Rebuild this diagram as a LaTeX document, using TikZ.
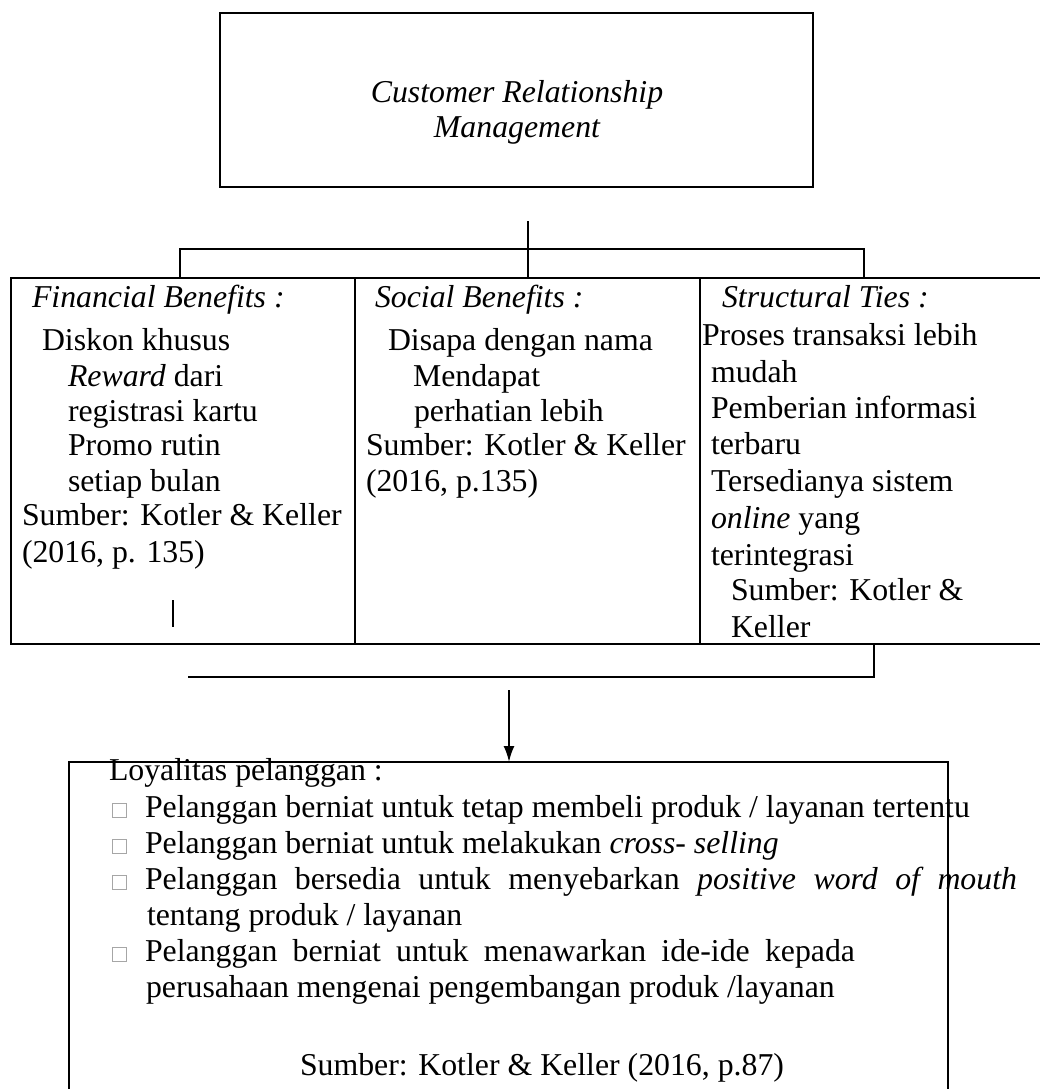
\documentclass[tikz,border=0pt]{standalone}
\usepackage{fontspec}
\setmainfont{Liberation Serif}
\usetikzlibrary{arrows.meta}
\begin{document}
\begin{tikzpicture}[x=1pt,y=-1pt,
  every node/.style={inner sep=0pt, outer sep=0pt},
  frame/.style={draw, line width=2pt, anchor=north west},
  colbox/.style={frame, line width=2.3pt, minimum height=366pt},
  txt/.style={anchor=base west, font=\fontsize{31.8}{35.5}\selectfont},
  ctxt/.style={anchor=base, font=\fontsize{31.8}{35.5}\selectfont},
  link/.style={line width=2pt},
  bul/.style={draw=gray!70, line width=1pt, anchor=south west, minimum width=14pt, minimum height=14pt}
]
\useasboundingbox (0,0) rectangle (1040,1089);
\clip (0,0) rectangle (1040,1089);

% top box
\node[frame, minimum width=593pt, minimum height=174pt] (crm) at (220,13) {};
\node[ctxt] (crm1) at (517,103) {\itshape Customer Relationship};
\node[ctxt] (crm2) at (517,138) {\itshape Management};

% three columns
\node[colbox, minimum width=344pt] (fin) at (11,278) {};
\node[colbox, minimum width=345pt] (soc) at (355,278) {};
\node[colbox, minimum width=360pt] (str) at (700,278) {};

% column 1
\node[txt] (f0) at (32,307) {\itshape Financial Benefits :};
\node[txt] (f1) at (42,350) {Diskon khusus};
\node[txt] (f2) at (68,386) {\textit{Reward} dari};
\node[txt] (f3) at (68,421) {registrasi kartu};
\node[txt] (f4) at (68,455) {Promo rutin};
\node[txt] (f5) at (68,491) {setiap bulan};
\node[txt] (f6) at (22,525) {Sumber: Kotler \& Keller};
\node[txt] (f7) at (22,562) {(2016, p. 135)};

% column 2
\node[txt] (s0) at (375,307) {\itshape Social Benefits :};
\node[txt] (s1) at (388,350) {Disapa dengan nama};
\node[txt] (s2) at (413,386) {Mendapat};
\node[txt] (s3) at (414,421) {perhatian lebih};
\node[txt] (s4) at (366,455) {Sumber: Kotler \& Keller};
\node[txt] (s5) at (366,491) {(2016, p.135)};

% column 3
\node[txt] (t0) at (722,307) {\itshape Structural Ties :};
\node[txt] (t1) at (702,345) {Proses transaksi lebih};
\node[txt] (t2) at (711,382) {mudah};
\node[txt] (t3) at (711,418) {Pemberian informasi};
\node[txt] (t4) at (711,454) {terbaru};
\node[txt] (t5) at (711,491) {Tersedianya sistem};
\node[txt] (t6) at (711,528) {\textit{online} yang};
\node[txt] (t7) at (711,565) {terintegrasi};
\node[txt] (t8) at (731,600) {Sumber: Kotler \&};
\node[txt] (t9) at (731,637) {Keller};

% bottom box
\node[frame, minimum width=879pt, minimum height=340pt] (loy) at (69,762) {};
\node[txt] (l0) at (109,780) {Loyalitas pelanggan :};
\node[bul] (b1) at (112,817) {};
\node[bul] (b2) at (112,853) {};
\node[bul] (b3) at (112,889) {};
\node[bul] (b4) at (112,961) {};
\node[txt] (l1) at (145,817) {Pelanggan berniat untuk tetap membeli produk / layanan tertentu};
\node[txt] (l2) at (145,853) {Pelanggan berniat untuk melakukan \textit{cross- selling}};
\node[txt] (l3) at (145,889) {\makebox[872pt][s]{Pelanggan bersedia untuk menyebarkan \textit{positive word of mouth}}};
\node[txt] (l4) at (147,925) {tentang produk / layanan};
\node[txt] (l5) at (145,961) {\makebox[710pt][s]{Pelanggan berniat untuk menawarkan ide-ide kepada}};
\node[txt] (l6) at (146,997) {perusahaan mengenai pengembangan produk /layanan};
\node[ctxt] (l7) at (542,1075) {Sumber: Kotler \& Keller (2016, p.87)};

% connectors
\coordinate (crmstub) at (528,221);
\coordinate (split) at (528,249);
\coordinate (fintop) at (180,278);
\coordinate (strtop) at (864,278);
\draw[link] (crmstub) -- (crmstub |- soc.north);
\draw[link] (fintop) |- (split) -| (strtop);
\coordinate (strbot) at (874,644);
\coordinate (mergeend) at (188,677);
\draw[link] (strbot) |- (mergeend);
\coordinate (arrowstart) at (509,690);
\draw[link, -{Latex[length=16pt,width=11pt]}] (arrowstart) -- (arrowstart |- loy.north);
\coordinate (tickA) at (173,600);
\coordinate (tickB) at (173,627);
\draw[link] (tickA) -- (tickB);
\end{tikzpicture}
\end{document}
